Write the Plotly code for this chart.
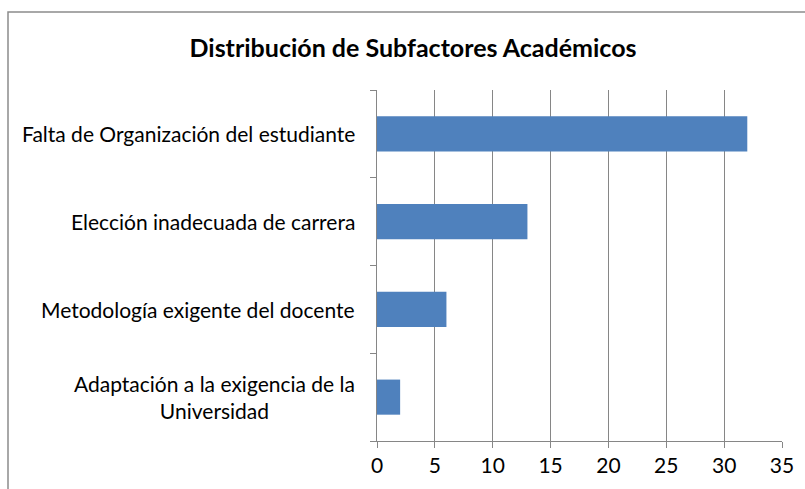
import plotly.graph_objects as go

categories = [
    "Adaptación a la exigencia de la<br>Universidad",
    "Metodología exigente del docente",
    "Elección inadecuada de carrera",
    "Falta de Organización del estudiante",
]
values = [2, 6, 13, 32]
x_ticks = [0, 5, 10, 15, 20, 25, 30, 35]
title_text = "Distribución de Subfactores Académicos"

W, H = 805, 489
ml, mr, mt, mb = 377, 23, 90, 48
pw, ph = W - ml - mr, H - mt - mb
FONT = "Lato, sans-serif"

fig = go.Figure(go.Bar(
    x=values, y=categories, orientation="h",
    marker=dict(color="#4F81BD", line=dict(width=0)),
    width=0.4,
))

annotations = [
    dict(text=c, x=0, xref="paper", y=c, yref="y", xanchor="right",
         yanchor="middle", align="center", xshift=-20, showarrow=False,
         font=dict(family=FONT, size=21, color="#000000"))
    for c in categories
]

grid = "#868686"
fig.update_layout(
    width=W, height=H,
    margin=dict(l=ml, r=mr, t=mt, b=mb, pad=0),
    paper_bgcolor="white", plot_bgcolor="white",
    showlegend=False,
    title=dict(text="<b>" + title_text + "</b>", x=413 / W, xanchor="center",
               y=1 - 48 / H, yanchor="middle",
               font=dict(family=FONT, size=25, color="#000000")),
    xaxis=dict(range=[0, 35], tickvals=x_ticks, showgrid=True, gridcolor=grid,
               gridwidth=1, showline=True, linecolor=grid, linewidth=1,
               ticks="outside", ticklen=6, tickcolor=grid, zeroline=False,
               tickfont=dict(family=FONT, size=21, color="#000000")),
    yaxis=dict(categoryorder="array", categoryarray=categories,
               showticklabels=False, showline=True, linecolor=grid, linewidth=1,
               ticks="outside", ticklen=6, tickcolor=grid, tickson="boundaries",
               showgrid=False, range=[-0.5, 3.5]),
    annotations=annotations,
    shapes=[dict(type="rect", xref="paper", yref="paper",
                 x0=(8 - ml) / pw, x1=(W + 5 - ml) / pw,
                 y0=-(H + 5 - mt - ph) / ph, y1=(H - mb - 12) / ph,
                 line=dict(color="#8C8C8C", width=1.5), layer="below")],
)

fig.write_html(
    "out.html",
    config={"displayModeBar": False},
    post_script="document.body.style.margin='0';document.body.style.overflow='hidden';",
)
